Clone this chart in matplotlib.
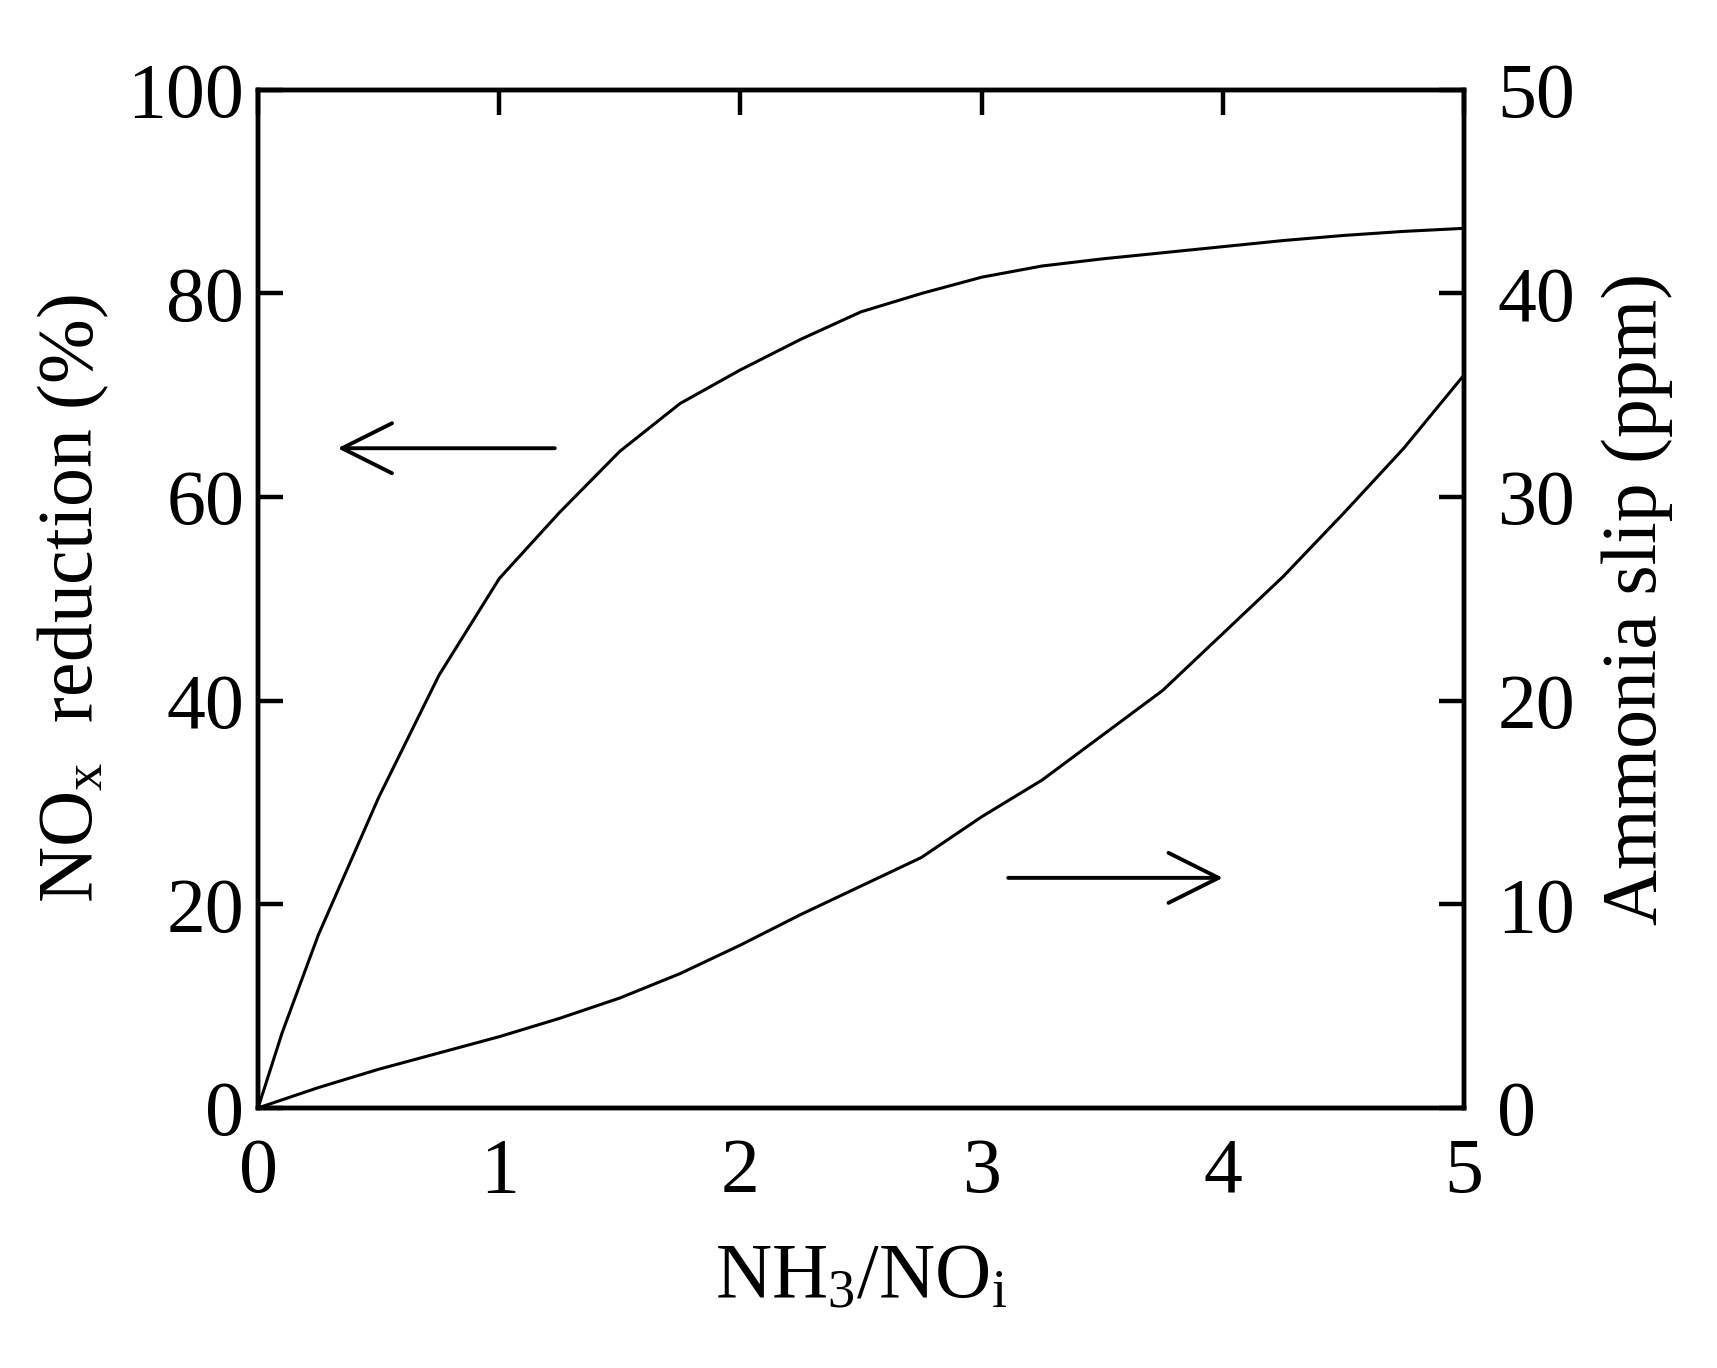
import matplotlib
matplotlib.use("Agg")
import matplotlib.pyplot as plt

# NH3/NOi ratio (shared x)
ratio = [0, 0.1, 0.25, 0.5, 0.75, 1.0, 1.25, 1.5, 1.75, 2.0, 2.25, 2.5, 2.75,
         3.0, 3.25, 3.5, 3.75, 4.0, 4.25, 4.5, 4.75, 5.0]
# NOx reduction (%) - left axis
nox_reduction = [0, 7.4, 17.0, 30.5, 42.5, 52.0, 58.5, 64.5, 69.2, 72.5, 75.5,
                 78.2, 80.0, 81.6, 82.7, 83.4, 84.0, 84.6, 85.2, 85.7, 86.1, 86.4]
# ammonia slip (ppm) - right axis
ammonia_slip = [0, 0.4, 1.0, 1.9, 2.7, 3.5, 4.4, 5.4, 6.6, 8.0, 9.5,
                10.9, 12.3, 14.3, 16.1, 18.3, 20.5, 23.3, 26.1, 29.2, 32.4, 36.0]

x_ticks = [0, 1, 2, 3, 4, 5]
left_ticks = [0, 20, 40, 60, 80, 100]
right_ticks = [0, 10, 20, 30, 40, 50]

plt.rcParams["font.family"] = ["Liberation Serif", "DejaVu Serif"]
plt.rcParams["mathtext.fontset"] = "custom"
plt.rcParams["mathtext.rm"] = "Liberation Serif"
plt.rcParams["mathtext.default"] = "regular"

fs = 56
lw_spine = 3.2

fig = plt.figure(figsize=(17.17, 13.68), dpi=100)
ax = fig.add_axes([0.1503, 0.1901, 0.7024, 0.7442])
ax2 = ax.twinx()

ax.plot(ratio, nox_reduction, color="black", lw=2.2)
ax2.plot(ratio, ammonia_slip, color="black", lw=2.2)

ax.set_xlim(0, 5)
ax.set_ylim(0, 100)
ax2.set_ylim(0, 50)
ax.set_xticks(x_ticks)
ax.set_yticks(left_ticks)
ax2.set_yticks(right_ticks)

for a in (ax, ax2):
    for s in a.spines.values():
        s.set_linewidth(lw_spine)

ax.tick_params(axis="x", direction="in", bottom=False, top=True,
               length=18, width=lw_spine, labelsize=fs, pad=21)
ax.tick_params(axis="y", direction="in", left=True, right=False,
               length=18, width=lw_spine, labelsize=fs, pad=10)
ax2.tick_params(axis="y", direction="in", right=True,
                length=18, width=lw_spine, labelsize=fs, pad=24)

ax.set_xlabel("NH$_3$/NO$_i$", fontsize=fs)
ax.set_ylabel("NO$_x$  reduction (%)", fontsize=fs)
ax2.set_ylabel("Ammonia slip (ppm)", fontsize=fs)
ax.xaxis.set_label_coords(0.5, -0.133)
ax.yaxis.set_label_coords(-0.122, 0.5)
ax2.yaxis.set_label_coords(1.114, 0.5)

# direction arrows
arrow = dict(arrowstyle="->,head_length=1.8,head_width=0.9", lw=2.8,
             color="black", mutation_scale=20, shrinkA=0, shrinkB=0)
ax.annotate("", xy=(0.33, 64.8), xytext=(1.23, 64.8), arrowprops=arrow)
ax2.annotate("", xy=(4.0, 11.3), xytext=(3.11, 11.3), arrowprops=arrow)

fig.savefig("out.png", dpi=100)
